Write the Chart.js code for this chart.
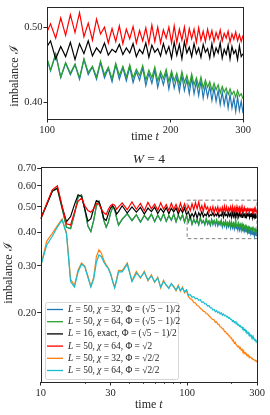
<!DOCTYPE html>
<html>
<head>
<meta charset="utf-8">
<script src="https://cdn.jsdelivr.net/npm/chart.js"></script>
<style>
html, body { margin: 0; padding: 0; background: #fff; }
canvas { position: absolute; left: 0; }
#topChart { top: 0; }
#botChart { top: 145px; }
</style>
</head>
<body>
<canvas id="topChart" width="270" height="145"></canvas>
<canvas id="botChart" width="270" height="270"></canvas>
<script>
// time grid (shared by every series)
const times = [10,11,12,13,14,15,16,17,18,19,20,21,22,23,24,25,26,27,28,29,30,31,32,33,34,
  36,39,42,45,48,51,54,57,60,63,66,69,72,75,78,81,84,87,90,93,96,99,
  102,105,108,111,114,117,120,123,126,129,132,135,138,141,144,147,150,
  153,156,159,162,165,168,171,174,177,180,183,186,189,192,195,198,
  201,204,207,210,213,216,219,222,225,228,231,234,237,240,243,246,249,
  252,255,258,261,264,267,270,273,276,279,282,285,288,291,294,297,300];

// L=50, chi=32, Phi=(sqrt5-1)/2
const blue = [0.450,0.509,0.574,0.584,0.494,0.419,0.414,0.469,0.544,0.554,0.489,0.424,0.404,0.444,0.504,0.524,0.489,0.444,0.419,0.439,0.474,0.497,0.489,0.454,0.427,
  0.449,0.471,0.444,0.467,0.438,0.464,0.446,0.469,0.440,0.465,0.444,0.471,0.441,0.463,0.445,0.469,0.439,0.465,0.447,0.467,0.438,0.463,
  0.439,0.461,0.430,0.449,0.434,0.447,0.428,0.454,0.434,0.444,0.428,0.450,0.430,0.442,0.425,0.447,0.428,
  0.443,0.426,0.444,0.424,0.438,0.427,0.443,0.420,0.436,0.423,0.440,0.418,0.434,0.421,0.437,0.416,
  0.435,0.417,0.431,0.413,0.433,0.414,0.428,0.410,0.430,0.410,0.425,0.408,0.426,0.405,0.421,0.406,0.419,
  0.402,0.417,0.401,0.414,0.397,0.412,0.397,0.410,0.393,0.409,0.393,0.405,0.389,0.406,0.390,0.401,0.387];

// L=50, chi=64, Phi=(sqrt5-1)/2
const green = [0.450,0.510,0.575,0.585,0.495,0.420,0.415,0.470,0.545,0.555,0.490,0.425,0.405,0.445,0.505,0.525,0.490,0.445,0.420,0.440,0.475,0.498,0.490,0.455,0.428,
  0.450,0.472,0.445,0.468,0.440,0.465,0.448,0.470,0.442,0.466,0.446,0.472,0.443,0.464,0.447,0.470,0.441,0.466,0.449,0.468,0.440,0.464,
  0.440,0.462,0.431,0.450,0.436,0.448,0.430,0.455,0.437,0.445,0.431,0.452,0.434,0.444,0.429,0.449,0.433,
  0.445,0.431,0.447,0.430,0.441,0.433,0.446,0.427,0.440,0.430,0.444,0.426,0.438,0.429,0.441,0.425,
  0.439,0.426,0.436,0.422,0.438,0.424,0.433,0.420,0.435,0.421,0.430,0.419,0.431,0.417,0.427,0.418,0.425,
  0.414,0.423,0.415,0.421,0.411,0.419,0.412,0.417,0.409,0.416,0.409,0.413,0.406,0.414,0.407,0.410,0.404];

// L=16, exact
const black = [0.452,0.512,0.572,0.590,0.500,0.440,0.460,0.510,0.555,0.548,0.492,0.442,0.452,0.492,0.528,0.522,0.490,0.452,0.445,0.472,0.495,0.505,0.492,0.470,0.480,
  0.505,0.474,0.500,0.478,0.498,0.470,0.495,0.480,0.499,0.472,0.493,0.477,0.497,0.471,0.494,0.479,0.496,0.470,0.492,0.476,0.495,0.468,
  0.480,0.455,0.472,0.458,0.478,0.454,0.476,0.462,0.480,0.459,0.470,0.463,0.477,0.460,0.468,0.464,0.475,
  0.461,0.470,0.463,0.476,0.458,0.468,0.462,0.477,0.457,0.474,0.464,0.469,0.459,0.476,0.462,0.472,
  0.456,0.478,0.460,0.475,0.455,0.479,0.463,0.471,0.458,0.476,0.462,0.470,0.457,0.475,0.464,0.469,0.456,
  0.476,0.459,0.470,0.463,0.477,0.456,0.468,0.461,0.474,0.455,0.472,0.462,0.467,0.454,0.473,0.458,0.462];

// L=50, chi=64, Phi=sqrt2
const red = [0.450,0.515,0.580,0.600,0.505,0.432,0.428,0.478,0.525,0.540,0.505,0.485,0.478,0.492,0.515,0.512,0.490,0.475,0.468,0.490,0.505,0.512,0.508,0.490,0.500,
  0.518,0.488,0.522,0.490,0.515,0.484,0.520,0.492,0.512,0.486,0.518,0.490,0.510,0.485,0.516,0.489,0.511,0.484,0.517,0.488,0.513,0.487,
  0.505,0.484,0.514,0.488,0.519,0.492,0.522,0.486,0.506,0.481,0.512,0.490,0.500,0.477,0.498,0.479,0.502,
  0.476,0.497,0.483,0.501,0.477,0.495,0.480,0.499,0.476,0.503,0.479,0.500,0.477,0.496,0.484,0.500,
  0.477,0.502,0.478,0.497,0.481,0.500,0.476,0.498,0.483,0.497,0.478,0.499,0.481,0.494,0.479,0.497,0.483,
  0.495,0.479,0.492,0.483,0.496,0.480,0.491,0.484,0.494,0.478,0.490,0.482,0.493,0.480,0.489,0.479,0.488];

// L=50, chi=32, Phi=sqrt2/2
const orange = [0.300,0.372,0.398,0.425,0.450,0.400,0.268,0.253,0.290,0.308,0.300,0.275,0.252,0.272,0.325,0.345,0.335,0.315,0.303,0.295,0.282,0.264,0.250,0.268,0.289,
  0.288,0.308,0.264,0.286,0.270,0.287,0.264,0.278,0.260,0.272,0.248,0.265,0.253,0.249,0.256,0.252,0.242,0.254,0.241,0.250,0.238,0.243,
  0.230,0.226,0.224,0.219,0.218,0.213,0.212,0.208,0.206,0.203,0.202,0.199,0.198,0.195,0.193,0.190,0.189,
  0.188,0.184,0.185,0.181,0.181,0.177,0.177,0.174,0.174,0.170,0.170,0.167,0.167,0.164,0.164,0.161,
  0.161,0.157,0.158,0.154,0.155,0.152,0.152,0.149,0.150,0.147,0.148,0.145,0.146,0.143,0.144,0.141,0.142,
  0.140,0.140,0.138,0.139,0.137,0.137,0.136,0.136,0.135,0.135,0.134,0.134,0.133,0.133,0.132,0.132,0.131];

// L=50, chi=64, Phi=sqrt2/2
const cyan = [0.300,0.360,0.388,0.420,0.447,0.395,0.262,0.250,0.285,0.305,0.298,0.272,0.250,0.268,0.310,0.330,0.325,0.310,0.300,0.293,0.280,0.262,0.248,0.265,0.285,
  0.285,0.305,0.262,0.282,0.272,0.284,0.266,0.275,0.262,0.270,0.250,0.262,0.255,0.247,0.258,0.250,0.244,0.252,0.243,0.248,0.240,0.244,
  0.233,0.234,0.229,0.230,0.226,0.227,0.223,0.224,0.219,0.220,0.216,0.216,0.212,0.213,0.209,0.209,0.205,
  0.206,0.202,0.204,0.200,0.202,0.198,0.200,0.196,0.198,0.195,0.196,0.193,0.194,0.191,0.192,0.189,
  0.189,0.186,0.187,0.184,0.185,0.182,0.183,0.180,0.181,0.178,0.179,0.176,0.177,0.174,0.175,0.172,0.173,
  0.170,0.171,0.168,0.169,0.166,0.167,0.164,0.165,0.162,0.163,0.160,0.161,0.158,0.159,0.157,0.157,0.155];

const seriesColors = ['#1f77b4', '#2ca02c', '#000000', '#ff0000', '#ff7f0e', '#17becf'];
// legend text, [text, italic]
const legendLabels = [
  [['L', 1], [' = 50, ', 0], ['χ', 1], [' = 32, Φ = (√5 − 1)/2', 0]],
  [['L', 1], [' = 50, ', 0], ['χ', 1], [' = 64, Φ = (√5 − 1)/2', 0]],
  [['L', 1], [' = 16, exact, Φ = (√5 − 1)/2', 0]],
  [['L', 1], [' = 50, ', 0], ['χ', 1], [' = 64, Φ = √2', 0]],
  [['L', 1], [' = 50, ', 0], ['χ', 1], [' = 32, Φ = √2/2', 0]],
  [['L', 1], [' = 50, ', 0], ['χ', 1], [' = 64, Φ = √2/2', 0]]
];

const xTicksTop = [100, 200, 300];
const xLabelsTop = ['100', '200', '300'];
const yTicksTop = [0.4, 0.5];
const yLabelsTop = ['0.40', '0.50'];
const xTicksBot = [10, 30, 100, 300];
const xLabelsBot = ['10', '30', '100', '300'];
const xMinorBot = [20, 40, 50, 60, 70, 80, 90, 200];
const yTicksBot = [0.2, 0.3, 0.4, 0.5, 0.6, 0.7];
const yLabelsBot = ['0.20', '0.30', '0.40', '0.50', '0.60', '0.70'];
const zoomBox = { x0: 100, x1: 300, y0: 0.38, y1: 0.53 };

const SERIF = '"Liberation Serif", "DejaVu Serif", serif';
const INK = '#262626';
const allSeries = [blue, green, black, red, orange, cyan];

function pts(arr) {
  return times.map((t, i) => ({ x: t, y: arr[i] }));
}

function makeDatasets(list) {
  return list.map((arr, k) => ({
    data: pts(arr),
    borderColor: seriesColors[allSeries.indexOf(arr)],
    borderWidth: 1.2,
    pointRadius: 0,
    tension: 0,
    order: list.length - k   // later series drawn on top
  }));
}

function logAxis(min, max, ticks, labels, size) {
  return {
    type: 'logarithmic',
    min: min,
    max: max,
    afterBuildTicks: s => { s.ticks = ticks.map(v => ({ value: v })); },
    afterFit: s => { if (s.isHorizontal()) s.height = size; else s.width = size; },
    grid: { display: true, drawOnChartArea: false, drawTicks: true, tickLength: 3.5, color: INK, tickColor: INK },
    border: { display: false },
    ticks: {
      autoSkip: false, maxRotation: 0, padding: 1, color: INK,
      font: { family: SERIF, size: 10.5 },
      callback: (v, i) => labels[i]
    }
  };
}

function richText(ctx, parts, x, y, size, align) {
  let w = 0;
  parts.forEach(p => {
    ctx.font = (p[1] ? 'italic ' : '') + size + 'px ' + SERIF;
    w += ctx.measureText(p[0]).width;
  });
  let cx = align === 'center' ? x - w / 2 : x;
  ctx.textBaseline = 'middle';
  ctx.textAlign = 'left';
  ctx.fillStyle = INK;
  parts.forEach(p => {
    ctx.font = (p[1] ? 'italic ' : '') + size + 'px ' + SERIF;
    ctx.fillText(p[0], cx, y);
    cx += ctx.measureText(p[0]).width;
  });
}

function vertText(ctx, parts, x, y, size) {
  ctx.save();
  ctx.translate(x, y);
  ctx.rotate(-Math.PI / 2);
  richText(ctx, parts, 0, 0, size, 'center');
  ctx.restore();
}

const yTitle = [['imbalance ', 0], ['ℐ', 0]];
const xTitle = [['time ', 0], ['t', 1]];

// top panel: zoom into late times
const topDeco = {
  id: 'topDeco',
  afterDraw(chart) {
    const ctx = chart.ctx, a = chart.chartArea;
    ctx.save();
    ctx.strokeStyle = INK;
    ctx.lineWidth = 1;
    ctx.strokeRect(Math.round(a.left) + 0.5, Math.round(a.top) + 0.5, Math.round(a.right - a.left), Math.round(a.bottom - a.top));
    vertText(ctx, yTitle, 15, 76, 12);
    richText(ctx, xTitle, (a.left + a.right) / 2, 137, 12, 'center');
    ctx.restore();
  }
};

new Chart(document.getElementById('topChart'), {
  type: 'line',
  data: { datasets: makeDatasets([blue, green, black, red]) },
  options: {
    responsive: false,
    animation: false,
    devicePixelRatio: 1,
    layout: { padding: { top: 7, right: 27, left: 0, bottom: 0 } },
    plugins: { legend: { display: false }, tooltip: { enabled: false } },
    scales: {
      x: logAxis(100, 300, xTicksTop, xLabelsTop, 26),
      y: logAxis(0.3803, 0.5305, yTicksTop, yLabelsTop, 47)
    }
  },
  plugins: [topDeco]
});

// bottom panel: full time range
const botDeco = {
  id: 'botDeco',
  afterDatasetsDraw(chart) {
    const ctx = chart.ctx, xs = chart.scales.x, ys = chart.scales.y;
    ctx.save();
    ctx.strokeStyle = '#7f7f7f';
    ctx.lineWidth = 1;
    ctx.setLineDash([3.5, 2.5]);
    const x0 = xs.getPixelForValue(zoomBox.x0), x1 = xs.getPixelForValue(zoomBox.x1);
    const y0 = ys.getPixelForValue(zoomBox.y0), y1 = ys.getPixelForValue(zoomBox.y1);
    ctx.strokeRect(x0, y1, x1 - x0, y0 - y1);
    ctx.restore();
  },
  afterDraw(chart) {
    const ctx = chart.ctx, a = chart.chartArea, xs = chart.scales.x;
    ctx.save();
    ctx.strokeStyle = INK;
    ctx.lineWidth = 1;
    ctx.strokeRect(Math.round(a.left) + 0.5, Math.round(a.top) + 0.5, Math.round(a.right - a.left), Math.round(a.bottom - a.top));
    // minor ticks
    ctx.lineWidth = 0.8;
    xMinorBot.forEach(v => {
      const px = Math.round(xs.getPixelForValue(v)) + 0.5;
      ctx.beginPath();
      ctx.moveTo(px, a.bottom);
      ctx.lineTo(px, a.bottom + 2);
      ctx.stroke();
    });
    // legend
    const lx = 45, ly = 157, lw = 133, lh = 77;
    ctx.fillStyle = 'rgba(255,255,255,0.8)';
    ctx.strokeStyle = '#cccccc';
    ctx.beginPath();
    ctx.roundRect(lx + 0.5, ly + 0.5, lw, lh, 2);
    ctx.fill();
    ctx.stroke();
    legendLabels.forEach((parts, k) => {
      const yy = ly + 7.5 + k * 12.2;
      ctx.strokeStyle = seriesColors[k];
      ctx.lineWidth = 1.3;
      ctx.beginPath();
      ctx.moveTo(lx + 2, yy);
      ctx.lineTo(lx + 18, yy);
      ctx.stroke();
      richText(ctx, parts, lx + 23, yy, 9.4, 'left');
    });
    // titles
    const cx = (a.left + a.right) / 2;
    richText(ctx, [['W', 1], [' = 4', 0]], cx, 14, 13.5, 'center');
    vertText(ctx, yTitle, 9, 128, 12);
    richText(ctx, xTitle, cx, 260, 12, 'center');
    ctx.restore();
  }
};

new Chart(document.getElementById('botChart'), {
  type: 'line',
  data: { datasets: makeDatasets(allSeries) },
  options: {
    responsive: false,
    animation: false,
    devicePixelRatio: 1,
    layout: { padding: { top: 21.7, right: 13, left: 0, bottom: 0 } },
    plugins: { legend: { display: false }, tooltip: { enabled: false } },
    scales: {
      x: logAxis(10, 300, xTicksBot, xLabelsBot, 33),
      y: logAxis(0.110, 0.708, yTicksBot, yLabelsBot, 40.7)
    }
  },
  plugins: [botDeco]
});
</script>
</body>
</html>
